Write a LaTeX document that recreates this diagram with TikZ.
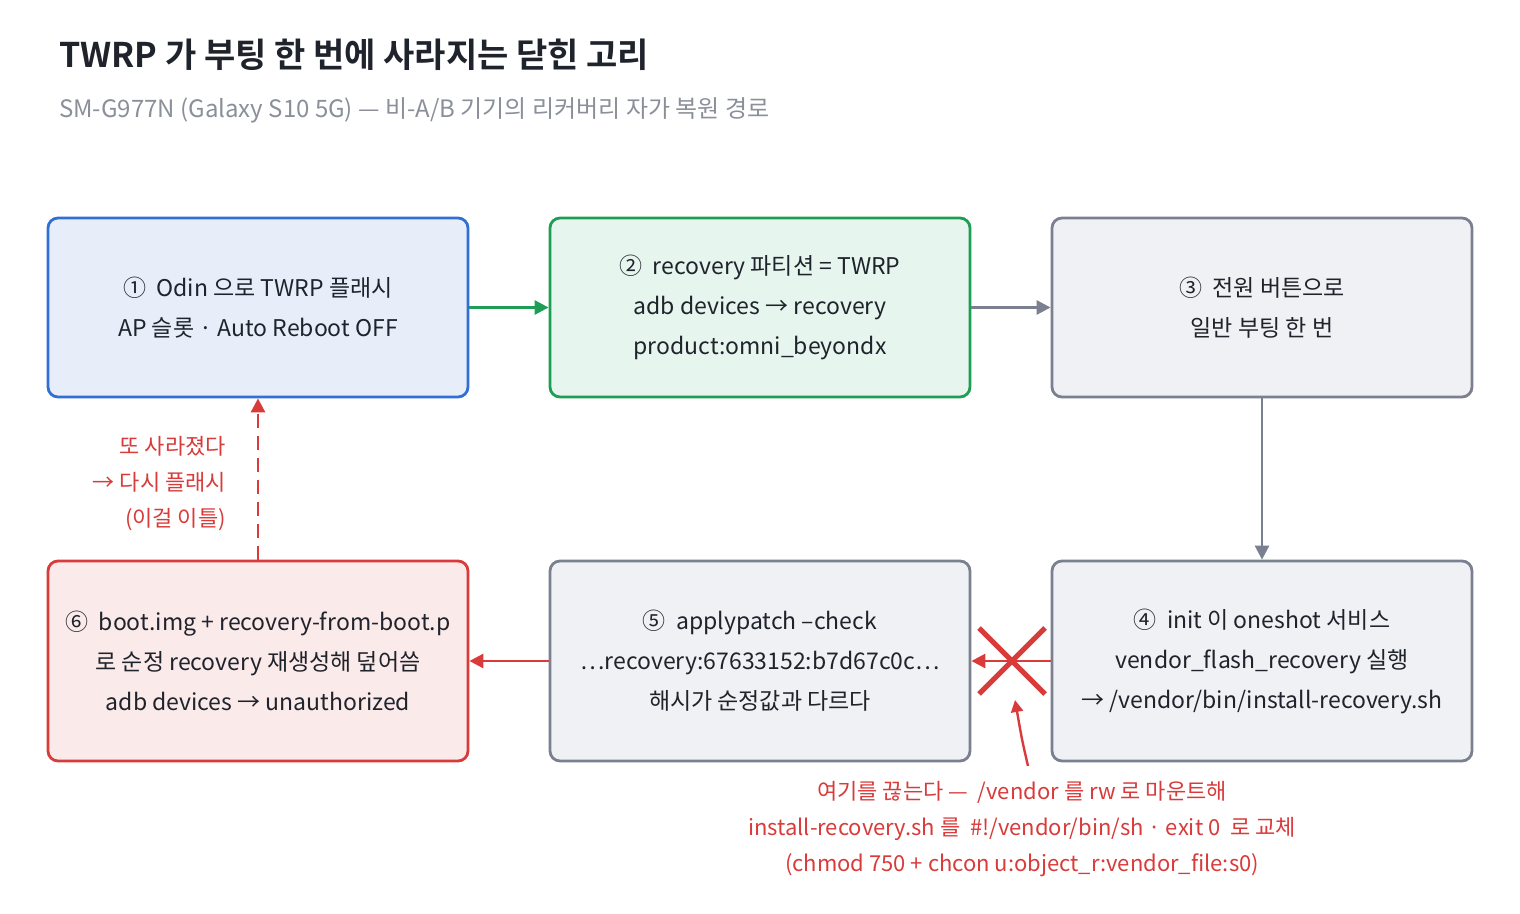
\documentclass[tikz,border=0pt]{standalone}
\usepackage{fontspec}
\setmainfont{Noto Sans CJK KR}[BoldFont={Noto Sans CJK KR Bold}]
\usetikzlibrary{arrows.meta,positioning}
\definecolor{blueln}{HTML}{2F6FD6}\definecolor{bluebg}{HTML}{E8EEF9}
\definecolor{greenln}{HTML}{1E9E55}\definecolor{greenbg}{HTML}{E6F5EE}
\definecolor{greyln}{HTML}{7A8090}\definecolor{greybg}{HTML}{F0F1F4}
\definecolor{redln}{HTML}{D93A3A}\definecolor{redbg}{HTML}{FBEAEA}
\definecolor{titlec}{HTML}{1F232B}\definecolor{subc}{HTML}{8A8F99}
\tikzset{
  stage/.style={rectangle, rounded corners=5pt, line width=1.4pt, minimum width=210pt, align=center, font=\fontsize{11.5}{20}\selectfont, text=titlec},
  arr/.style={-{Triangle[length=7pt,width=7pt]}, line width=1.4pt},
  redtxt/.style={text=redln, font=\fontsize{11}{18}\selectfont}
}
\begin{document}
\begin{tikzpicture}[x=0.5pt,y=-0.5pt]
\useasboundingbox (0,0) rectangle (1520,914);
% title
\node[anchor=west, font=\fontsize{17}{20}\selectfont\bfseries, text=titlec] (title) at (52,55) {TWRP 가 부팅 한 번에 사라지는 닫힌 고리};
\node[anchor=west, font=\fontsize{12}{14}\selectfont, text=subc] (sub) at (52,110) {SM-G977N (Galaxy S10 5G) — 비-A/B 기기의 리커버리 자가 복원 경로};

%%%%%%%%%%%%%%%%%%%% top row %%%%%%%%%%%%%%%%%%%%
\node[stage, draw=blueln, fill=bluebg, minimum height=89.5pt] (s1) at (258,307.5) {①\ \ Odin 으로 TWRP 플래시\\AP 슬롯 · Auto Reboot OFF};
\node[stage, draw=greenln, fill=greenbg, minimum height=89.5pt] (s2) at (760,307.5) {②\ \ recovery 파티션 = TWRP\\adb devices → recovery\\product:omni\_beyondx};
\node[stage, draw=greyln, fill=greybg, minimum height=89.5pt] (s3) at (1262,307.5) {③\ \ 전원 버튼으로\\일반 부팅 한 번};

%%%%%%%%%%%%%%%%%%%% bottom row %%%%%%%%%%%%%%%%%%%%
\node[stage, draw=greyln, fill=greybg, minimum height=100pt] (s4) at (1262,661) {④\ \ init 이 oneshot 서비스\\vendor\_flash\_recovery 실행\\→ /vendor/bin/install-recovery.sh};
\node[stage, draw=greyln, fill=greybg, minimum height=100pt] (s5) at (760,661) {⑤\ \ applypatch --check\\⋯recovery:67633152:b7d67c0c⋯\\해시가 순정값과 다르다};
\node[stage, draw=redln, fill=redbg, minimum height=100pt] (s6) at (258,661) {⑥\ \ boot.img + recovery-from-boot.p\\로 순정 recovery 재생성해 덮어씀\\adb devices → unauthorized};

% connectors
\draw[arr, greenln] (s1) -- (s2);
\draw[arr, greyln] (s2) -- (s3);
\draw[arr, greyln] (s3) -- (s4);
\draw[arr, redln] (s4) -- (s5);
\draw[arr, redln] (s5) -- (s6);
\draw[arr, redln, dash pattern=on 7pt off 4pt] (s6) -- (s1);

% cut mark
\coordinate (cut) at (1012,661);
\draw[redln, line width=2.5pt] ([shift={(-33,-33)}]cut) -- ([shift={(33,33)}]cut);
\draw[redln, line width=2.5pt] ([shift={(-33,33)}]cut) -- ([shift={(33,-33)}]cut);

% labels
\node[redtxt, align=right, anchor=east] (again) at (233,484) {또 사라졌다\\→ 다시 플래시\\(이걸 이틀)};
\node[redtxt, align=center] (fix) at (1022,829) {여기를 끊는다 —\ \ /vendor 를 rw 로 마운트해\\install-recovery.sh 를\ \ \#!/vendor/bin/sh · exit 0\ \ 로 교체\\(chmod 750 + chcon u:object\_r:vendor\_file:s0)};
\coordinate (fixtop) at (1028,766);
\coordinate (cuttip) at (1015,700);
\draw[-{Triangle[length=6pt,width=6pt]}, redln, line width=1.2pt] (fixtop) .. controls (1022,740) .. (cuttip);
\end{tikzpicture}
\end{document}
